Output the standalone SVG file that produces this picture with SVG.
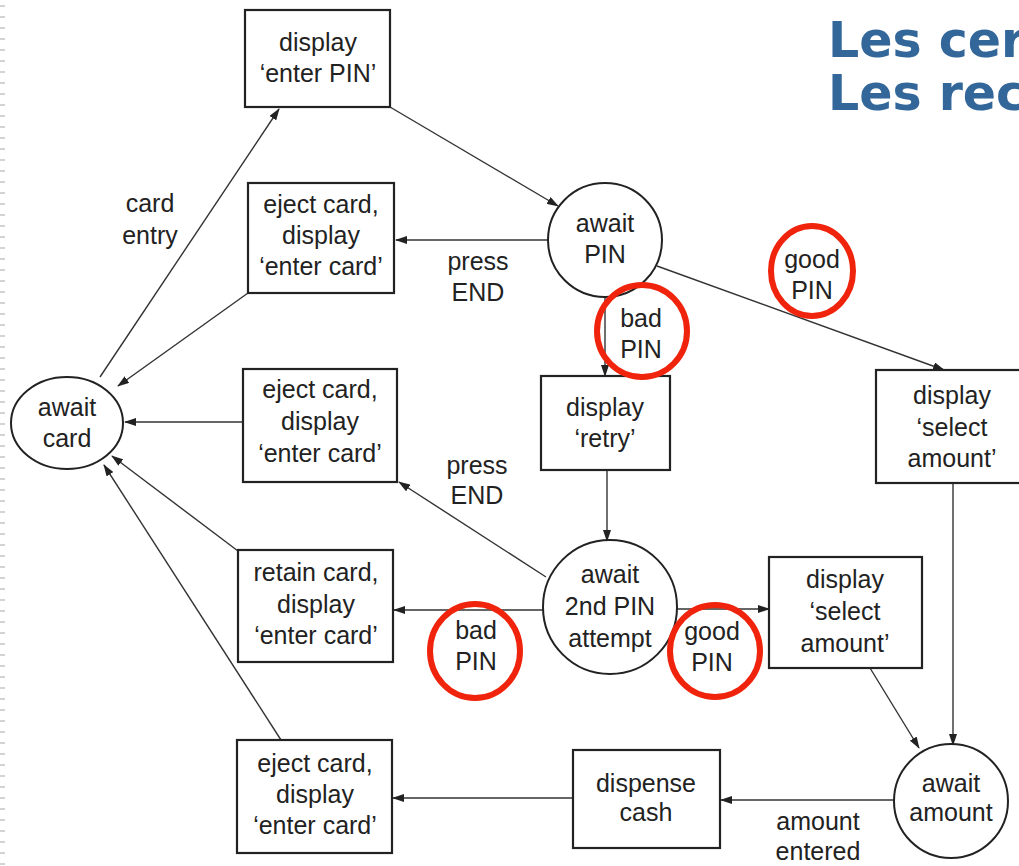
<svg xmlns="http://www.w3.org/2000/svg" width="1019" height="866" viewBox="0 0 1019 866">
<defs>
<marker id="ah" markerWidth="12" markerHeight="8" refX="11" refY="4" orient="auto" markerUnits="userSpaceOnUse">
<path d="M0,0 L12,4 L0,8 Z" fill="#222"/>
</marker>
<style>
.box{fill:#fff;stroke:#222;stroke-width:2.2}
.st{fill:#fff;stroke:#222;stroke-width:2}
.t{font-family:"Liberation Sans",Arial,sans-serif;font-size:25px;fill:#222;text-anchor:middle}
.c{fill:none;stroke:#333;stroke-width:1.4;marker-end:url(#ah)}
.red{fill:none;stroke:#f0240c;stroke-width:6}
.title{font-family:"DejaVu Sans",Verdana,sans-serif;font-weight:bold;font-size:49px;fill:#336699}
</style>
</defs>
<rect width="1019" height="866" fill="#fff"/>
<line x1="2.5" y1="5" x2="2.5" y2="866" stroke="#d4d4d4" stroke-width="5" stroke-dasharray="2 9"/>
<g id="title">
<text class="title" x="828" y="57">Les cer</text>
<text class="title" x="828" y="110">Les rec</text>
</g>
<g id="connectors">
<line class="c" x1="100" y1="377" x2="279" y2="109"/>
<line class="c" x1="390" y1="107" x2="558" y2="206"/>
<line class="c" x1="548" y1="240" x2="396" y2="240"/>
<line class="c" x1="248" y1="293" x2="118" y2="386"/>
<line class="c" x1="657" y1="266" x2="944" y2="370"/>
<line class="c" x1="605" y1="297" x2="605" y2="376"/>
<line class="c" x1="607" y1="470" x2="607" y2="541"/>
<line class="c" x1="546" y1="577" x2="399" y2="482"/>
<line class="c" x1="243" y1="422" x2="125" y2="422"/>
<line class="c" x1="543" y1="610" x2="394" y2="610"/>
<line class="c" x1="238" y1="551" x2="112" y2="456"/>
<line class="c" x1="281" y1="740" x2="104" y2="465"/>
<line class="c" x1="677" y1="609" x2="769" y2="609"/>
<line class="c" x1="870" y1="668" x2="919" y2="748"/>
<line class="c" x1="953" y1="483" x2="953" y2="745"/>
<line class="c" x1="895" y1="800" x2="721" y2="800"/>
<line class="c" x1="573" y1="798" x2="393" y2="798"/>
</g>
<g id="await-card">
<ellipse class="st" cx="67" cy="423" rx="56" ry="46"/>
<text class="t" x="67" y="416">await</text>
<text class="t" x="67" y="447">card</text>
</g>
<g id="display-enter-pin">
<rect class="box" x="245" y="10" width="145" height="97"/>
<text class="t" x="318" y="51">display</text>
<text class="t" x="318" y="82">‘enter PIN’</text>
</g>
<g id="await-pin">
<circle class="st" cx="605" cy="240" r="57"/>
<text class="t" x="605" y="232">await</text>
<text class="t" x="605" y="263">PIN</text>
</g>
<g id="eject-card-1">
<rect class="box" x="248" y="183" width="146" height="110"/>
<text class="t" x="321" y="213">eject card,</text>
<text class="t" x="321" y="244">display</text>
<text class="t" x="321" y="275">‘enter card’</text>
</g>
<g id="eject-card-2">
<rect class="box" x="243" y="369" width="154" height="113"/>
<text class="t" x="320" y="398">eject card,</text>
<text class="t" x="320" y="430">display</text>
<text class="t" x="320" y="462">‘enter card’</text>
</g>
<g id="retain-card">
<rect class="box" x="238" y="550" width="155" height="112"/>
<text class="t" x="316" y="581">retain card,</text>
<text class="t" x="316" y="613">display</text>
<text class="t" x="316" y="644">‘enter card’</text>
</g>
<g id="eject-card-3">
<rect class="box" x="237" y="740" width="155" height="113"/>
<text class="t" x="315" y="772">eject card,</text>
<text class="t" x="315" y="803">display</text>
<text class="t" x="315" y="834">‘enter card’</text>
</g>
<g id="display-retry">
<rect class="box" x="541" y="376" width="129" height="94"/>
<text class="t" x="605" y="416">display</text>
<text class="t" x="605" y="447">‘retry’</text>
</g>
<g id="await-2nd-pin">
<circle class="st" cx="610" cy="607" r="67"/>
<text class="t" x="610" y="583">await</text>
<text class="t" x="610" y="615">2nd PIN</text>
<text class="t" x="610" y="647">attempt</text>
</g>
<g id="display-select-amount-1">
<rect class="box" x="769" y="557" width="153" height="111"/>
<text class="t" x="845" y="588">display</text>
<text class="t" x="845" y="620">‘select</text>
<text class="t" x="845" y="652">amount’</text>
</g>
<g id="display-select-amount-2">
<rect class="box" x="876" y="370" width="150" height="113"/>
<text class="t" x="952" y="404">display</text>
<text class="t" x="952" y="436">‘select</text>
<text class="t" x="952" y="467">amount’</text>
</g>
<g id="await-amount">
<circle class="st" cx="951" cy="801" r="57"/>
<text class="t" x="951" y="792">await</text>
<text class="t" x="951" y="821">amount</text>
</g>
<g id="dispense-cash">
<rect class="box" x="573" y="750" width="147" height="98"/>
<text class="t" x="646" y="792">dispense</text>
<text class="t" x="646" y="821">cash</text>
</g>
<g id="labels">
<text class="t" x="150" y="212">card</text>
<text class="t" x="150" y="244">entry</text>
<text class="t" x="478" y="270">press</text>
<text class="t" x="478" y="301">END</text>
<text class="t" x="641" y="327">bad</text>
<text class="t" x="641" y="358">PIN</text>
<text class="t" x="812" y="268">good</text>
<text class="t" x="812" y="299">PIN</text>
<text class="t" x="477" y="474">press</text>
<text class="t" x="477" y="504">END</text>
<text class="t" x="476" y="639">bad</text>
<text class="t" x="476" y="670">PIN</text>
<text class="t" x="712" y="640">good</text>
<text class="t" x="712" y="671">PIN</text>
<text class="t" x="818" y="830">amount</text>
<text class="t" x="818" y="860">entered</text>
</g>
<g id="highlights">
<ellipse class="red" cx="812" cy="271" rx="41" ry="45"/>
<ellipse class="red" cx="642" cy="331" rx="45" ry="46"/>
<ellipse class="red" cx="475" cy="651" rx="45" ry="47"/>
<ellipse class="red" cx="715" cy="651" rx="45" ry="46"/>
</g>
</svg>
